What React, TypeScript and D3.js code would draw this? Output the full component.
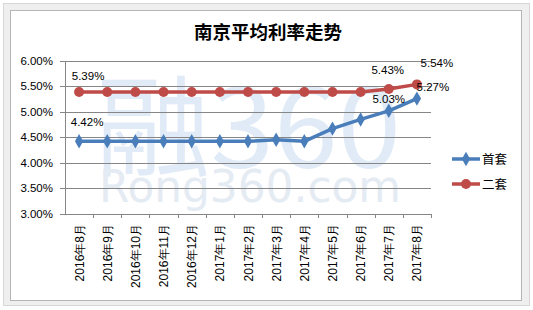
import React from "react";
import * as d3 from "d3";

const categories = ["2016年8月","2016年9月","2016年10月","2016年11月","2016年12月","2017年1月","2017年2月","2017年3月","2017年4月","2017年5月","2017年6月","2017年7月","2017年8月"];
const firstHome = [4.42,4.42,4.42,4.42,4.42,4.42,4.42,4.45,4.42,4.67,4.85,5.02,5.26];
const secondHome = [5.39,5.39,5.39,5.39,5.39,5.39,5.39,5.39,5.39,5.39,5.39,5.45,5.54];
const yTicks = [3.0,3.5,4.0,4.5,5.0,5.5,6.0];
const seriesNames = ["首套","二套"];
const labelsFirst = [[0, "4.42%"],[11, "5.03%"],[12, "5.27%"]] as [number,string][];
const labelsSecond = [[0, "5.39%"],[11, "5.43%"],[12, "5.54%"]] as [number,string][];
const watermarkLogo = "融360";
const watermarkSite = "Rong360.com";

const W = 533, H = 310;
const BLUE = "#4A7EBB";
const RED = "#BE4B48";
const FONT = "'Liberation Sans', Arial, sans-serif";

export default function App() {
  const x = d3.scaleBand<string>().domain(categories).range([65, 431]).padding(0);
  const y = d3.scaleLinear().domain([3, 6]).range([213.5, 61]);
  const cx = (i: number) => (x(categories[i]) as number) + x.bandwidth() / 2;
  const line = d3.line<number>().x((_, i) => cx(i)).y((d) => y(d));
  const diamond = d3.symbol().type(d3.symbolDiamond).size(60)();

  const labelOffsets1: Record<number, [number, number]> = { 0: [8, -15], 11: [0, -8], 12: [16, -8] };
  const labelOffsets2: Record<number, [number, number]> = { 0: [9, -12], 11: [-1, -15], 12: [20, -17] };

  return (
    <svg width={W} height={H} style={{ position: "absolute", left: 0, top: 0, display: "block" }}>
      <rect x={0} y={0} width={W} height={H} fill="#ffffff" />
      <rect x={3.5} y={3.5} width={526} height={302} fill="#efefef" stroke="#d6d6d6" />
      <rect x={10.5} y={10.5} width={511} height={290} fill="#ffffff" stroke="#b5b5b5" />

      {/* watermark */}
      <text x={96} y={168} fontSize={110} fill="#e0ebf7" fontFamily="'Noto Sans CJK SC', 'DejaVu Sans', sans-serif" textLength={305} lengthAdjust="spacingAndGlyphs">{watermarkLogo}</text>
      <text x={99} y={202} fontSize={44} fill="#e4ebf3" fontFamily="'DejaVu Sans', sans-serif" textLength={302} lengthAdjust="spacingAndGlyphs">{watermarkSite}</text>

      {/* title */}
      <text x={268} y={39} textAnchor="middle" fontSize={18.5} fontWeight="bold" fontFamily="'Noto Sans CJK SC', sans-serif" fill="#000">南京平均利率走势</text>

      {/* gridlines */}
      {yTicks.map((t) => (
        <line key={t} x1={65} x2={431} y1={Math.round(y(t)) + 0.5} y2={Math.round(y(t)) + 0.5} stroke="#868686" strokeWidth={1} />
      ))}
      <line x1={65.5} x2={65.5} y1={61} y2={214} stroke="#868686" />
      {yTicks.map((t) => (
        <g key={"yt" + t}>
          <line x1={60} x2={65} y1={Math.round(y(t)) + 0.5} y2={Math.round(y(t)) + 0.5} stroke="#868686" />
          <text x={53} y={y(t) + 4} textAnchor="end" fontSize={11.5} fontFamily={FONT} fill="#000">{t.toFixed(2)}%</text>
        </g>
      ))}
      {categories.map((c) => (
        <line key={"xt" + c} x1={Math.round((x(c) as number) + x.bandwidth()) + 0.5} x2={Math.round((x(c) as number) + x.bandwidth()) + 0.5} y1={214} y2={218} stroke="#868686" />
      ))}
      {categories.map((c, i) => (
        <text key={"xl" + c} transform={`translate(${cx(i) + 4.5},224) rotate(-90)`} textAnchor="end" fontSize={12} fontFamily={FONT} fill="#000">{c}</text>
      ))}

      {/* series */}
      <path d={line(secondHome) as string} fill="none" stroke={RED} strokeWidth={3.5} strokeLinejoin="round" />
      {secondHome.map((v, i) => (
        <circle key={"c" + i} cx={cx(i)} cy={y(v)} r={5} fill={RED} />
      ))}
      <path d={line(firstHome) as string} fill="none" stroke={BLUE} strokeWidth={3.5} strokeLinejoin="round" />
      {firstHome.map((v, i) => (
        <path key={"d" + i} d={diamond as string} transform={`translate(${cx(i)},${y(v)})`} fill={BLUE} />
      ))}

      {/* data labels */}
      {labelsSecond.map(([i, t]) => (
        <text key={"ls" + i} x={cx(i) + labelOffsets2[i][0]} y={y(secondHome[i]) + labelOffsets2[i][1]} textAnchor="middle" fontSize={11.5} fontFamily={FONT} fill="#000">{t}</text>
      ))}
      {labelsFirst.map(([i, t]) => (
        <text key={"lf" + i} x={cx(i) + labelOffsets1[i][0]} y={y(firstHome[i]) + labelOffsets1[i][1]} textAnchor="middle" fontSize={11.5} fontFamily={FONT} fill="#000">{t}</text>
      ))}

      {/* legend */}
      {seriesNames.map((n, k) => {
        const ly = 159 + k * 25;
        const col = k === 0 ? BLUE : RED;
        return (
          <g key={n}>
            <line x1={452} x2={480} y1={ly} y2={ly} stroke={col} strokeWidth={3.5} />
            {k === 0 ? (
              <path d={diamond as string} transform={`translate(466,${ly})`} fill={col} />
            ) : (
              <circle cx={466} cy={ly} r={5} fill={col} />
            )}
            <text x={482} y={ly + 4.5} fontSize={12.5} fontFamily="'Noto Sans CJK SC', sans-serif" fill="#000">{n}</text>
          </g>
        );
      })}
    </svg>
  );
}
